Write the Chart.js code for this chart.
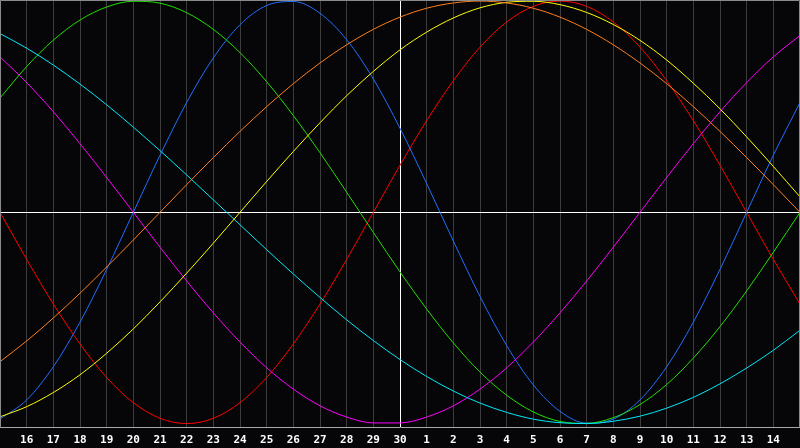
<!DOCTYPE html>
<html>
<head>
<meta charset="utf-8">
<script src="https://cdn.jsdelivr.net/npm/chart.js@4/dist/chart.umd.min.js"></script>
<style>
html,body{margin:0;padding:0;background:#060608;}
#wrap{width:800px;height:448px;position:relative;}
</style>
</head>
<body>
<div id="wrap"><canvas id="c"></canvas></div>
<script>
const days = ['15','16','17','18','19','20','21','22','23','24','25','26','27','28','29','30',
              '1','2','3','4','5','6','7','8','9','10','11','12','13','14','15'];
const todayIndex = 15;

const red     = [0,-22.3,-43.4,-62.3,-78.2,-90.1,-97.5,-100,-97.5,-90.1,-78.2,-62.3,-43.4,-22.3,0,22.3,43.4,62.3,78.2,90.1,97.5,100,97.5,90.1,78.2,62.3,43.4,22.3,0,-22.3,-43.4];
const green   = [54.1,69.0,81.5,91.0,97.2,99.9,99.0,94.5,86.6,75.6,61.8,45.8,28.2,9.5,-9.5,-28.2,-45.8,-61.8,-75.6,-86.6,-94.5,-99.0,-99.9,-97.2,-91.0,-81.5,-69.0,-54.1,-37.2,-18.9,0];
const blue    = [-97.9,-88.8,-73.1,-52.0,-27.0,0,27.0,52.0,73.1,88.8,97.9,99.8,94.2,81.7,63.1,39.8,13.6,-13.6,-39.8,-63.1,-81.7,-94.2,-99.8,-97.9,-88.8,-73.1,-52.0,-27.0,0,27.0,52.0];
const cyan    = [84.6,77.7,69.7,60.7,50.9,40.3,29.2,17.7,5.9,-5.9,-17.7,-29.2,-40.3,-50.9,-60.7,-69.7,-77.7,-84.6,-90.3,-94.7,-97.9,-99.6,-100.0,-98.9,-96.5,-92.7,-87.6,-81.2,-73.7,-65.3,-55.8];
const magenta = [73.6,61.4,47.6,32.5,16.5,0,-16.5,-32.5,-47.6,-61.4,-73.6,-83.7,-91.6,-96.9,-99.7,-99.7,-96.9,-91.6,-83.7,-73.6,-61.4,-47.6,-32.5,-16.5,0,16.5,32.5,47.6,61.4,73.6,83.7];
const yellow  = [-96.8,-92.0,-85.3,-76.9,-66.7,-55.2,-42.4,-28.8,-14.6,0,14.6,28.8,42.4,55.2,66.7,76.9,85.3,92.0,96.8,99.4,99.9,98.3,94.6,88.9,81.4,72.1,61.1,49.0,35.7,21.7,7.3];
const orange  = [-70.7,-60.9,-50.0,-38.3,-25.9,-13.1,0,13.1,25.9,38.3,50.0,60.9,70.7,79.3,86.6,92.4,96.6,99.1,100,99.1,96.6,92.4,86.6,79.3,70.7,60.9,50.0,38.3,25.9,13.1,0];

function ds(data, color){
  return {data, borderColor: color, borderWidth: 1, pointRadius: 0, pointHoverRadius: 0,
          cubicInterpolationMode: 'monotone', fill: false};
}

const framePlugin = {
  id: 'frame',
  beforeDraw(chart){
    const ctx = chart.ctx;
    ctx.save();
    ctx.fillStyle = '#060608';
    ctx.fillRect(0,0,chart.width,chart.height);
    ctx.restore();
  },
  beforeDatasetsDraw(chart){
    const ctx = chart.ctx, a = chart.chartArea;
    const y0 = Math.round(chart.scales.y.getPixelForValue(0)) + 0.5;
    ctx.save();
    ctx.strokeStyle = '#ffffff';
    ctx.lineWidth = 1;
    ctx.beginPath();
    ctx.moveTo(a.left, y0);
    ctx.lineTo(a.right, y0);
    ctx.stroke();
    ctx.restore();
  },
  afterDraw(chart){
    const ctx = chart.ctx, a = chart.chartArea;
    ctx.save();
    ctx.strokeStyle = '#8a8a8a';
    ctx.lineWidth = 1;
    ctx.beginPath();
    ctx.moveTo(a.left + 0.5, a.bottom);
    ctx.lineTo(a.left + 0.5, 0.5);
    ctx.lineTo(a.right - 0.5, 0.5);
    ctx.lineTo(a.right - 0.5, a.bottom);
    ctx.stroke();
    ctx.restore();
  }
};

new Chart(document.getElementById('c'), {
  type: 'line',
  data: {
    labels: days,
    datasets: [
      ds(orange, '#ff7f1e'),
      ds(yellow, '#ffff00'),
      ds(cyan, '#00e8f8'),
      ds(magenta, '#ff00ff'),
      ds(green, '#22e000'),
      ds(blue, '#2070ff'),
      ds(red, '#ff0000')
    ]
  },
  options: {
    responsive: true,
    maintainAspectRatio: false,
    animation: false,
    layout: {autoPadding: false, padding: {left: 0, right: 0, top: 0, bottom: 1}},
    plugins: {legend: {display: false}, tooltip: {enabled: false}},
    scales: {
      x: {
        type: 'category',
        offset: false,
        grid: {
          color: (c) => c.index === todayIndex ? '#ffffff' : '#3c3c3c',
          lineWidth: 1,
          drawTicks: true,
          tickLength: 6,
          tickColor: 'rgba(0,0,0,0)'
        },
        border: {display: true, color: '#a8a8a8', width: 1},
        ticks: {
          autoSkip: false,
          maxRotation: 0,
          minRotation: 0,
          padding: 0,
          color: '#ffffff',
          font: {family: '"DejaVu Sans Mono"', size: 11, weight: 'bold'},
          callback: function(v, i){ return (i === 0 || i === days.length - 1) ? '' : days[i]; }
        }
      },
      y: {
        display: false,
        min: -102,
        max: 100.5
      }
    }
  },
  plugins: [framePlugin]
});
</script>
</body>
</html>
